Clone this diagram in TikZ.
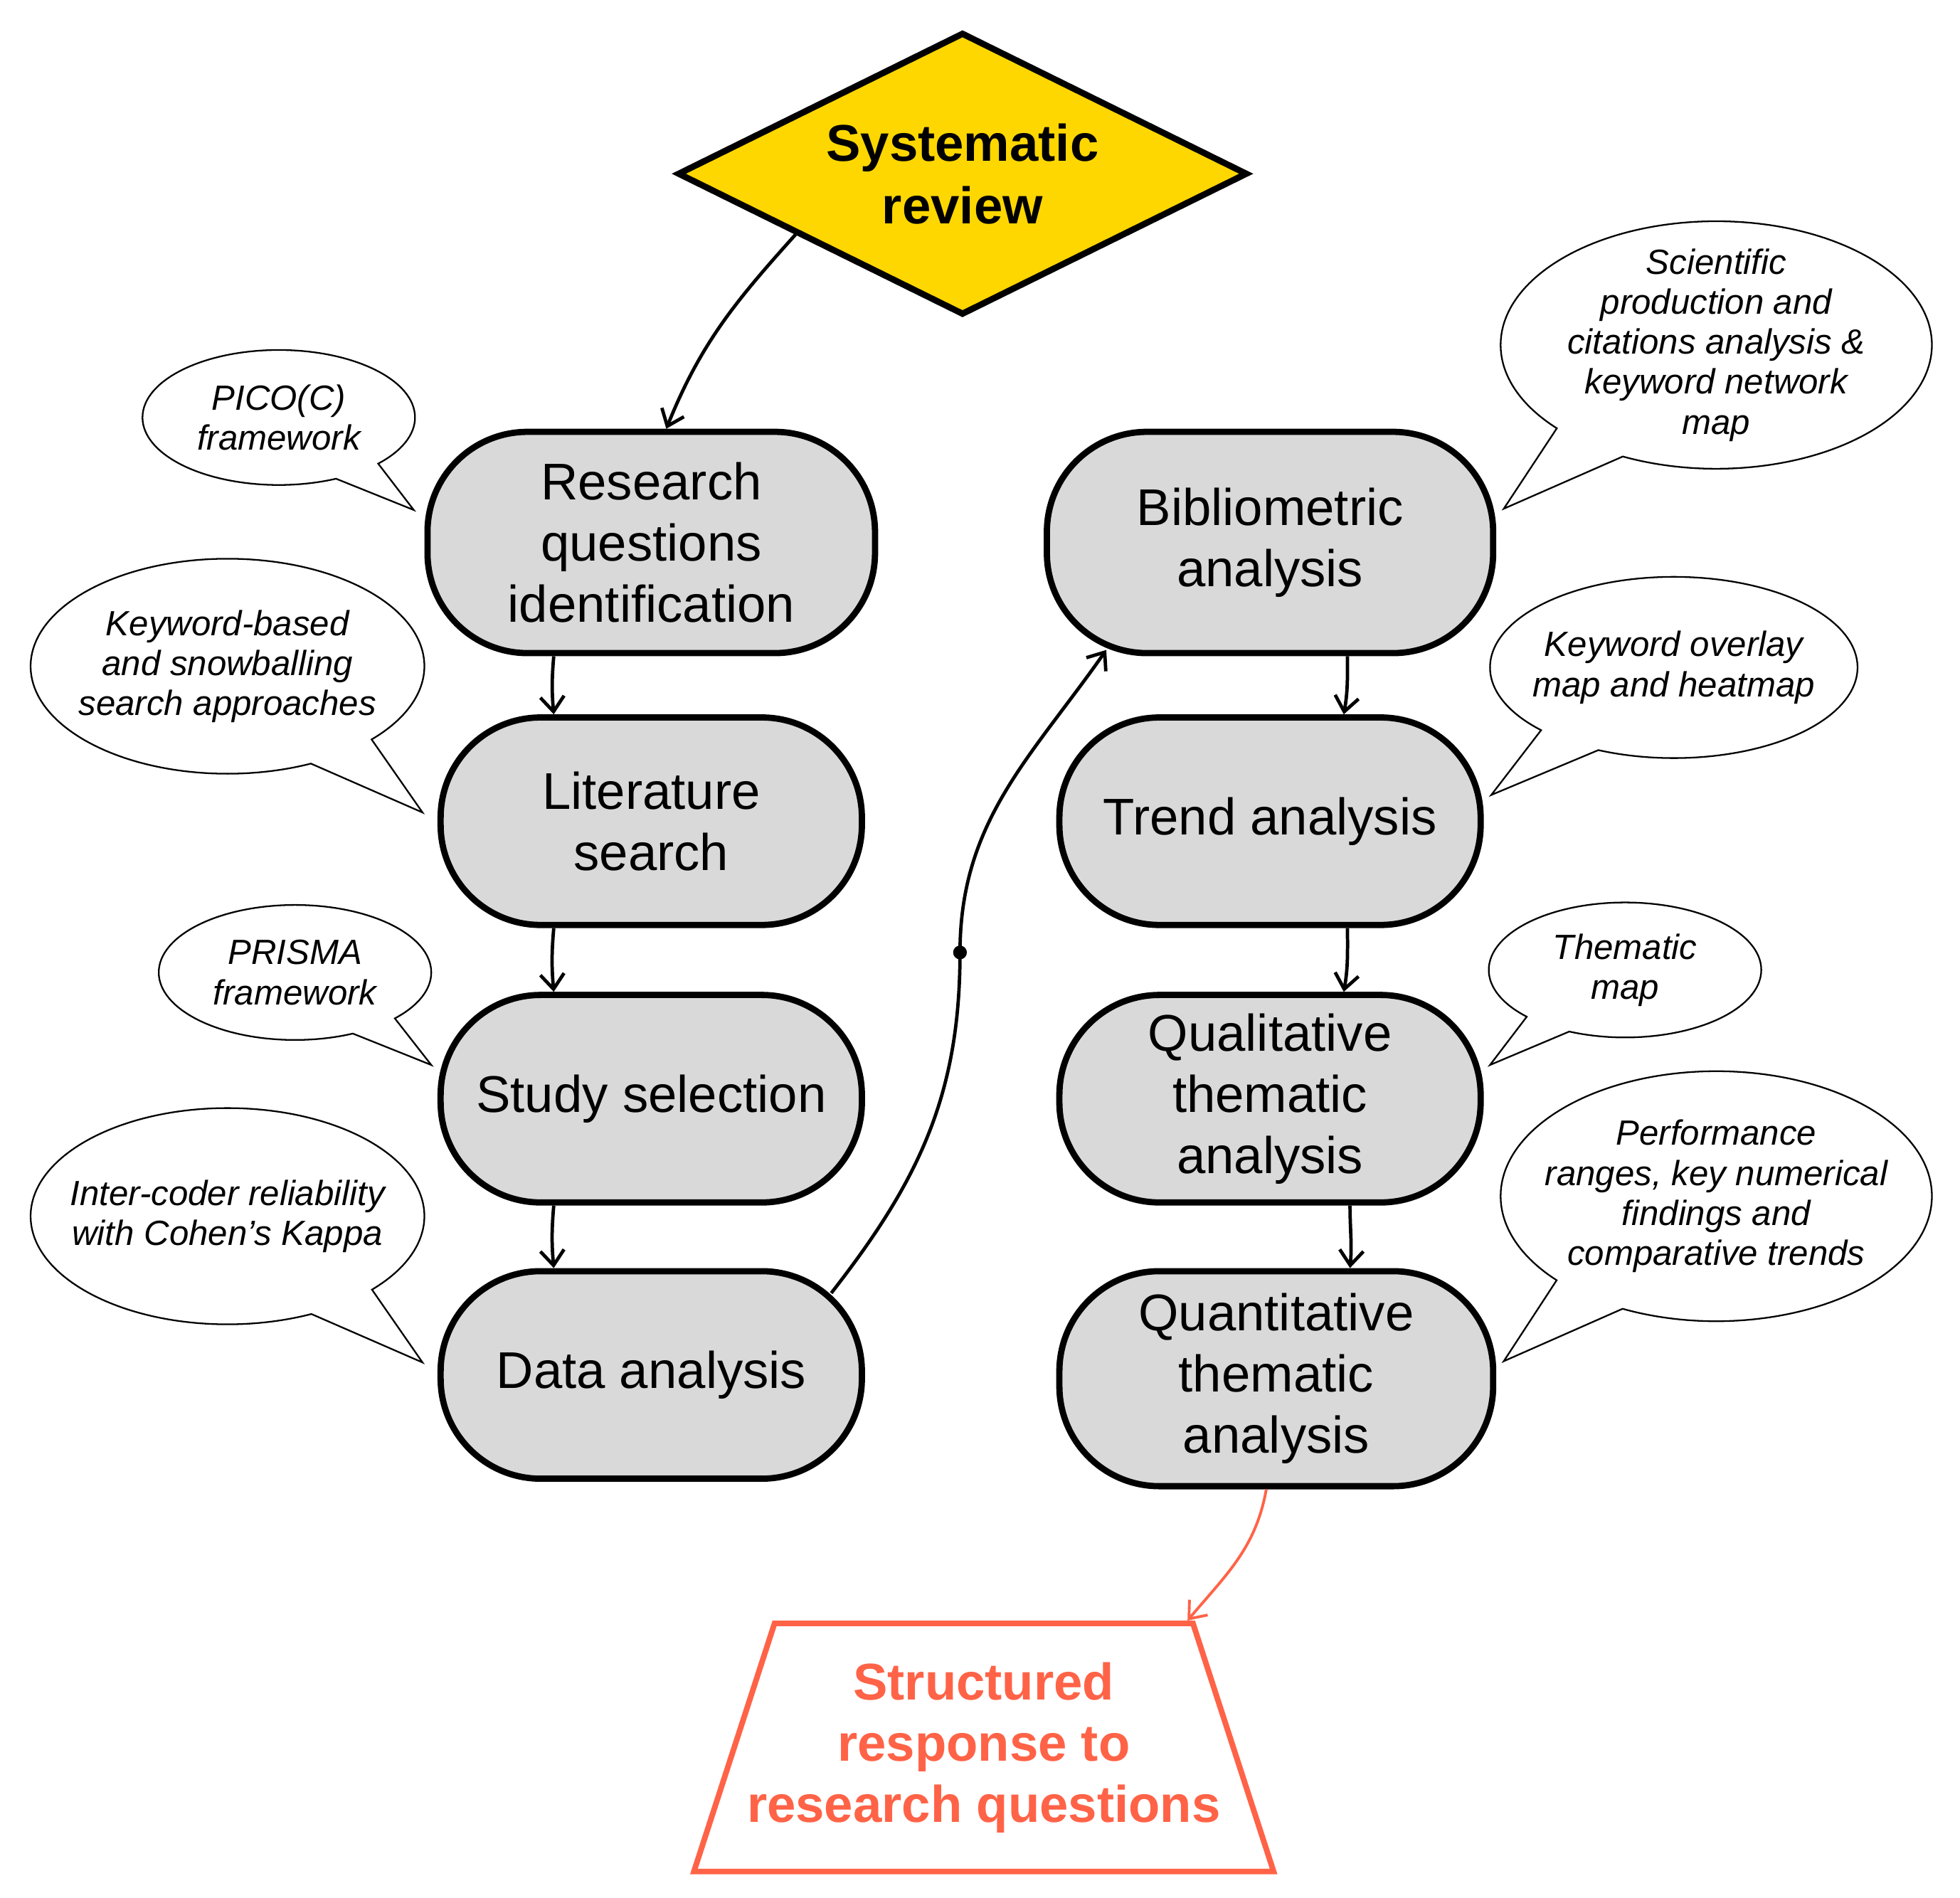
\documentclass[tikz,border=0pt]{standalone}
\usepackage{fontspec}
\setmainfont{Liberation Sans}
\usetikzlibrary{shapes.geometric,shapes.callouts,arrows.meta}

\definecolor{amarelo}{RGB}{255,215,0}
\definecolor{cinza}{RGB}{217,217,217}
\definecolor{vermelho}{RGB}{255,99,71}

\begin{document}
\begin{tikzpicture}[x=1pt,y=-1pt, %Unidades em pixels da figura
		etapa/.style={draw, line width=5pt, fill=cinza, rounded corners=80pt, minimum width=337pt, minimum height=166pt, inner sep=0pt, align=center, font=\fontsize{41.3}{49}\selectfont}, %Caixas das etapas
		balao/.style={ellipse callout, draw, line width=1.3pt, fill=white, inner sep=-20pt, callout pointer arc=22, align=center, font=\itshape\fontsize{28}{32}\selectfont}, %Balões de comentário
		seta/.style={-{Straight Barb[length=12pt,width=19pt]}, line width=2.7pt} %Setas
	]
				\useasboundingbox (0,0) rectangle (1568,1518); %Margens da figura
					%Losango inicial
				\node[diamond, draw, line width=5pt, fill=amarelo, aspect=2, minimum width=456pt, minimum height=226pt, inner sep=0pt, align=center, font=\bfseries\fontsize{41.3}{50}\selectfont] (sr) at (770,139) {Systematic\\review};
					%Etapas da esquerda
				\node[etapa, minimum width=358pt, minimum height=177pt] (rq) at (521,434) {Research\\questions\\identification};
				\node[etapa] (ls) at (521,657) {Literature\\search};
				\node[etapa] (ss) at (521,879) {Study selection};
				\node[etapa] (da) at (521,1100) {Data analysis};
					%Etapas da direita
				\node[etapa, minimum width=357pt, minimum height=177pt] (ba) at (1016,434) {Bibliometric\\analysis};
				\node[etapa] (ta) at (1016,657) {Trend analysis};
				\node[etapa] (ql) at (1016,879) {Qualitative\\thematic\\analysis};
				\node[etapa, minimum width=347pt, minimum height=172pt] (qt) at (1021,1103) {Quantitative\\thematic\\analysis};
					%Resultado final
				\node[trapezium, draw=vermelho, line width=4.5pt, fill=white, text=vermelho, trapezium left angle=72, trapezium right angle=72, inner xsep=-22pt, inner ysep=31pt, align=center, font=\bfseries\fontsize{41.3}{49}\selectfont] (rs) at (787,1398) {Structured\\response to\\research questions};
					%Balões
				\node[balao, minimum width=218pt, minimum height=108pt, callout absolute pointer={(331,408)}] (pico) at (223,334) {PICO(C)\\framework};
				\node[balao, minimum width=315pt, minimum height=172pt, callout absolute pointer={(338,650)}] (busca) at (182,533) {Keyword-based\\and snowballing\\search approaches};
				\node[balao, minimum width=218pt, minimum height=108pt, callout absolute pointer={(345,852)}] (prisma) at (236,778) {PRISMA\\framework};
				\node[balao, minimum width=315pt, minimum height=173pt, callout absolute pointer={(338,1090)}] (kappa) at (182,973) {Inter-coder reliability\\with Cohen’s Kappa};
				\node[balao, minimum width=345pt, minimum height=198pt, callout absolute pointer={(1203,407)}] (cient) at (1373,276) {Scientific\\production and\\citations analysis \&\\keyword network\\map};
				\node[balao, minimum width=294pt, minimum height=145pt, callout absolute pointer={(1193,636)}] (mapa) at (1339,534) {Keyword overlay\\map and heatmap};
				\node[balao, minimum width=218pt, minimum height=108pt, callout absolute pointer={(1192,852)}] (tema) at (1300,776) {Thematic\\map};
				\node[balao, minimum width=345pt, minimum height=200pt, callout absolute pointer={(1203,1089)}] (desemp) at (1373,957) {Performance\\ranges, key numerical\\findings and\\comparative trends};
					%Setas
				\draw[seta] (sr.200) to[out=228,in=68] ([xshift=12pt]rq.north); %Revisão para perguntas
				\draw[seta] ([xshift=-78pt]rq.south) to[out=265,in=95] ([xshift=-78pt]ls.north);
				\draw[seta] ([xshift=-78pt]ls.south) to[out=265,in=95] ([xshift=-78pt]ss.north);
				\draw[seta] ([xshift=-78pt]ss.south) to[out=265,in=95] ([xshift=-78pt]da.north);
				\draw[seta] ([xshift=62pt]ba.south) to[out=270,in=80] ([xshift=59pt]ta.north);
				\draw[seta] ([xshift=62pt]ta.south) to[out=270,in=80] ([xshift=59pt]ql.north);
				\draw[seta] ([xshift=64pt]ql.south) to[out=270,in=85] ([xshift=59pt]qt.north);
				\coordinate (ponto) at (768,762); %Ponto na ligação
				\draw[seta] ([xshift=-27pt,yshift=-20pt]da.north east) to[out=52,in=270] (ponto) to[out=90,in=235] ([xshift=50pt,yshift=5pt]ba.south west); %Da esquerda para a direita
				\fill (ponto) circle (5.5pt);
				\draw[seta, vermelho, line width=2.2pt] ([xshift=-8pt]qt.south) to[out=260,in=50] ([xshift=-6pt]rs.top right corner); %Para o resultado
			\end{tikzpicture}
\end{document}
